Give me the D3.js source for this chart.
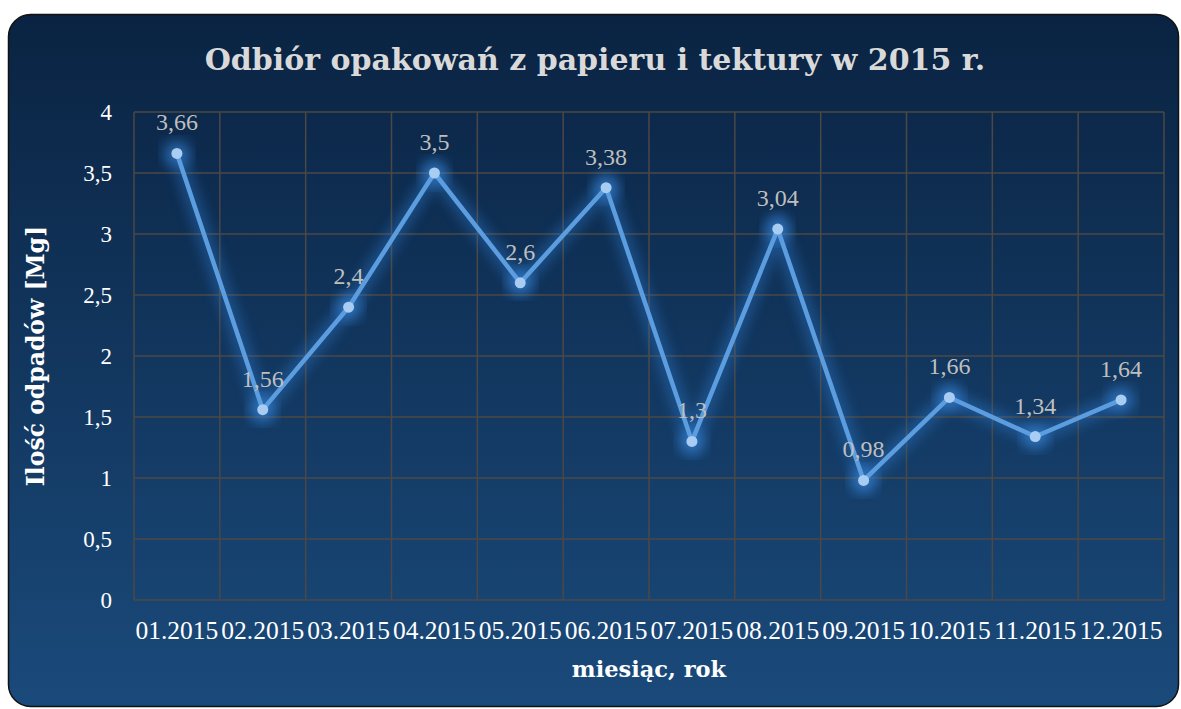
<!DOCTYPE html>
<html>
<head>
<meta charset="utf-8">
<script src="https://cdn.jsdelivr.net/npm/d3@7"></script>
<style>
  html, body { margin: 0; padding: 0; background: #fff; }
  svg { display: block; }
  text { font-family: "Liberation Serif", serif; }
  .bold { font-family: "DejaVu Serif", serif; font-weight: bold; }
</style>
</head>
<body>
<div id="chart"></div>
<script>
const months = ["01.2015", "02.2015", "03.2015", "04.2015", "05.2015", "06.2015",
                "07.2015", "08.2015", "09.2015", "10.2015", "11.2015", "12.2015"];
const values = [3.66, 1.56, 2.4, 3.5, 2.6, 3.38, 1.3, 3.04, 0.98, 1.66, 1.34, 1.64];
const yTicks = [0, 0.5, 1, 1.5, 2, 2.5, 3, 3.5, 4];

const width = 1181, height = 709,
    margin = {top: 112, right: 17, bottom: 109, left: 134};

const fmt = v => String(v).replace(".", ",");

const svg = d3.select("#chart").append("svg")
    .attr("width", width)
    .attr("height", height);

const defs = svg.append("defs");
const grad = defs.append("linearGradient")
    .attr("id", "bg").attr("x1", 0).attr("y1", 0).attr("x2", 0).attr("y2", 1);
grad.append("stop").attr("offset", "0%").attr("stop-color", "#0a2342");
grad.append("stop").attr("offset", "100%").attr("stop-color", "#1a4a7b");

const glow = defs.append("filter").attr("id", "glow")
    .attr("x", "-20%").attr("y", "-20%").attr("width", "140%").attr("height", "140%");
glow.append("feGaussianBlur").attr("stdDeviation", 7).attr("result", "b");

svg.append("rect")
    .attr("x", 8.5).attr("y", 14.5)
    .attr("width", 1170).attr("height", 692)
    .attr("rx", 22)
    .attr("fill", "url(#bg)")
    .attr("stroke", "#111")
    .attr("stroke-width", 1.5);

svg.append("text")
    .attr("class", "bold")
    .attr("x", 595).attr("y", 70)
    .attr("text-anchor", "middle")
    .attr("fill", "#d9d9d9")
    .attr("font-size", 30)
    .text("Odbiór opakowań z papieru i tektury w 2015 r.");

const x = d3.scaleBand()
    .domain(months)
    .range([margin.left, width - margin.right]);

const y = d3.scaleLinear()
    .domain([0, 4])
    .range([height - margin.bottom, margin.top]);

const grid = svg.append("g").attr("stroke", "#4c4845").attr("stroke-width", 1.5);
grid.selectAll("line.h")
    .data(yTicks)
    .join("line")
    .attr("class", "h")
    .attr("x1", margin.left).attr("x2", width - margin.right)
    .attr("y1", d => y(d)).attr("y2", d => y(d));
grid.selectAll("line.v")
    .data(months.concat(["end"]))
    .join("line")
    .attr("class", "v")
    .attr("x1", (d, i) => margin.left + i * x.step())
    .attr("x2", (d, i) => margin.left + i * x.step())
    .attr("y1", y(4)).attr("y2", y(0));

const yAxis = svg.append("g")
    .attr("transform", `translate(${margin.left},0)`)
    .call(d3.axisLeft(y).tickValues(yTicks).tickFormat(fmt).tickSize(0).tickPadding(22));
yAxis.select(".domain").remove();
yAxis.selectAll("text")
    .attr("fill", "#ffffff")
    .attr("font-size", 23)
    .style("font-family", "Liberation Serif, serif");

const xAxis = svg.append("g")
    .attr("transform", `translate(0,${y(0)})`)
    .call(d3.axisBottom(x).tickSize(0).tickPadding(21));
xAxis.select(".domain").remove();
xAxis.selectAll("text")
    .attr("fill", "#ffffff")
    .attr("font-size", 25.5)
    .style("font-family", "Liberation Serif, serif");

svg.append("text")
    .attr("class", "bold")
    .attr("x", x.range()[0] + (x.range()[1] - x.range()[0]) / 2)
    .attr("y", 677)
    .attr("text-anchor", "middle")
    .attr("fill", "#ffffff")
    .attr("font-size", 22.5)
    .text("miesiąc, rok");

svg.append("text")
    .attr("class", "bold")
    .attr("transform", `translate(44,${y(2)}) rotate(-90)`)
    .attr("text-anchor", "middle")
    .attr("fill", "#ffffff")
    .attr("font-size", 23.5)
    .text("Ilość odpadów [Mg]");

const line = d3.line()
    .x((d, i) => x(months[i]) + x.bandwidth() / 2)
    .y(d => y(d));

const series = svg.append("g");
series.append("path")
    .datum(values)
    .attr("d", line)
    .attr("fill", "none")
    .attr("stroke", "#2f7fd6")
    .attr("stroke-width", 12)
    .attr("opacity", 0.5)
    .attr("filter", "url(#glow)");
series.selectAll("circle.glow")
    .data(values)
    .join("circle")
    .attr("class", "glow")
    .attr("cx", (d, i) => x(months[i]) + x.bandwidth() / 2)
    .attr("cy", d => y(d))
    .attr("r", 13)
    .attr("fill", "#3b8ae0")
    .attr("opacity", 0.6)
    .attr("filter", "url(#glow)");
series.append("path")
    .datum(values)
    .attr("d", line)
    .attr("fill", "none")
    .attr("stroke", "#5b9ddf")
    .attr("stroke-width", 4.5)
    .attr("stroke-linejoin", "round");
series.selectAll("circle.pt")
    .data(values)
    .join("circle")
    .attr("class", "pt")
    .attr("cx", (d, i) => x(months[i]) + x.bandwidth() / 2)
    .attr("cy", d => y(d))
    .attr("r", 5.5)
    .attr("fill", "#a9cdf2");

svg.append("g").selectAll("text")
    .data(values)
    .join("text")
    .attr("x", (d, i) => x(months[i]) + x.bandwidth() / 2)
    .attr("y", d => y(d) - 23)
    .attr("text-anchor", "middle")
    .attr("fill", "#bfbfbf")
    .attr("font-size", 24)
    .text(fmt);
</script>
</body>
</html>
